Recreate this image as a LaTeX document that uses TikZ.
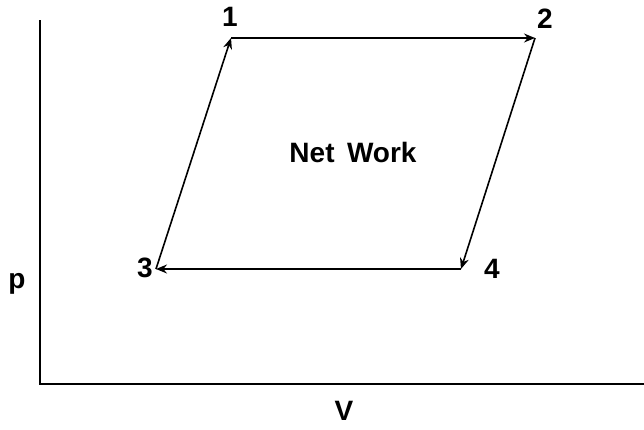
\documentclass[tikz,border=0pt]{standalone}
\usepackage{fontspec}
\setmainfont{Liberation Sans}
\usetikzlibrary{arrows.meta}
\begin{document}
\begin{tikzpicture}[x=1pt,y=-1pt,
  axis/.style={line width=2.2pt},
  proc/.style={line width=1.6pt,-{Stealth[length=11pt,width=9pt]}},
  lbl/.style={font=\bfseries\fontsize{28}{32}\selectfont,inner sep=0pt}]
\useasboundingbox (0,0) rectangle (644,429);
\coordinate (top) at (40,20);
\coordinate (origin) at (40,384);
\coordinate (right) at (644,384);
\draw[axis] (top) -- (origin) -- (right);
\coordinate (p1) at (231,38);
\coordinate (p2) at (535,38);
\coordinate (p3) at (156,269);
\coordinate (p4) at (461,269);
\draw[proc] (p3) -- (p1);
\draw[proc] (p1) -- (p2);
\draw[proc] (p2) -- (p4);
\draw[proc] (p4) -- (p3);
\node[lbl] (n1) at (230,17) {1};
\node[lbl] (n2) at (545,19) {2};
\node[lbl] (n3) at (145,268) {3};
\node[lbl] (n4) at (492,269) {4};
\node[lbl] (np) at (17,284) {p};
\node[lbl] (nV) at (344,411) {V};
\node[lbl] (nw) at (353,152) {Net\ \,Work};
\end{tikzpicture}
\end{document}
